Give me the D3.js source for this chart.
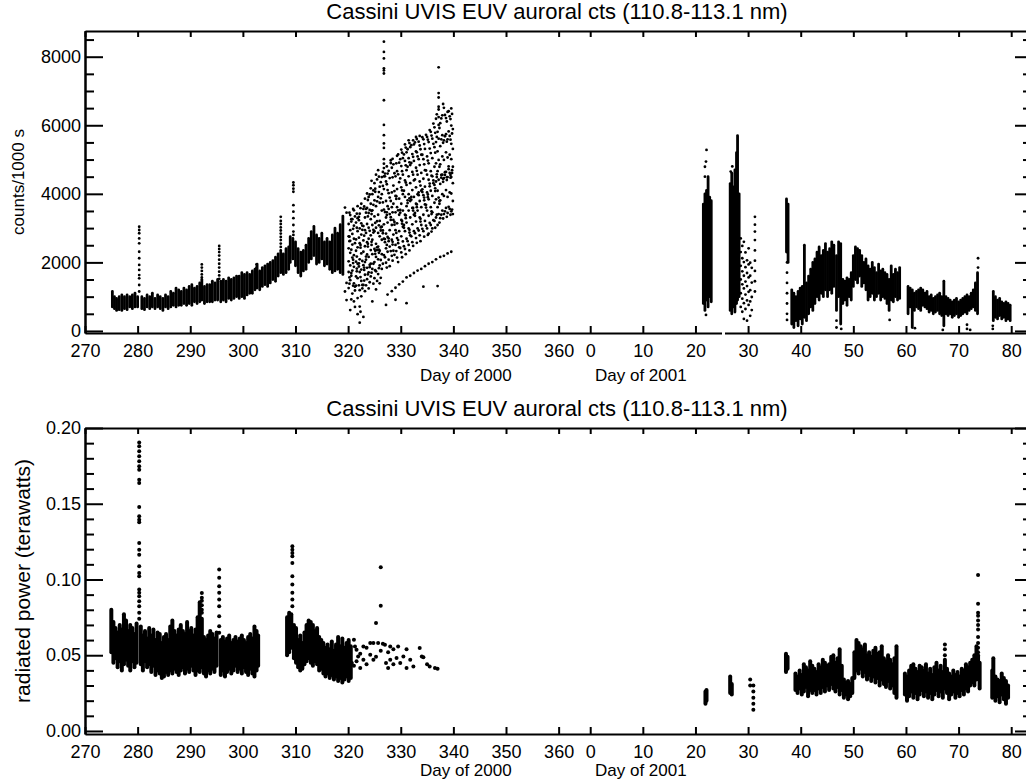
<!DOCTYPE html>
<html>
<head>
<meta charset="utf-8">
<script src="https://cdn.jsdelivr.net/npm/d3@7"></script>
<style>
  body { margin: 0; background: #fff; }
  svg text { font-family: 'Liberation Sans', Arial, sans-serif; fill: #000; }
  .axis path, .axis line { stroke: #000; stroke-width: 2; }
  .axis text { font-size: 18px; }
</style>
</head>
<body>
<script>
// day-of-year tick labels, 2000 then 2001 (2000 was a leap year: 366 days)
var dayTicks2000 = [270, 280, 290, 300, 310, 320, 330, 340, 350, 360];
var dayTicks2001 = [0, 10, 20, 30, 40, 50, 60, 70, 80];
var daysIn2000 = 366;

var ctsTicks = [0, 2000, 4000, 6000, 8000];
var ctsMinorTicks = [500, 1000, 1500, 2500, 3000, 3500, 4500, 5000, 5500, 6500, 7000, 7500, 8500];
var powTicks = [0, 0.05, 0.10, 0.15, 0.20];
var powMinorTicks = [0.01, 0.02, 0.03, 0.04, 0.06, 0.07, 0.08, 0.09, 0.11, 0.12, 0.13, 0.14, 0.16, 0.17, 0.18, 0.19];

// counts/1000 s -- dense sampling drawn as [day, low, high] runs of points
var ctsRuns2000 = [
  [275.2,700,1150],[275.6,650,1000],[276.0,600,950],[276.5,620,1000],[277.0,600,1050],[277.5,650,1000],
  [278.0,620,1050],[278.5,700,1000],[279.0,650,1050],[279.5,700,1100],[280.0,700,1000],
  [280.8,650,1000],[281.3,620,950],[281.8,700,1050],[282.3,650,1000],[282.8,700,1100],[283.3,650,950],
  [283.8,700,1050],[284.3,650,1000],[284.8,600,950],[285.3,700,1050],[285.8,650,1000],[286.3,700,1150],
  [286.8,750,1100],[287.3,700,1250],[287.8,750,1200],[288.3,750,1150],[288.8,800,1250],[289.3,750,1200],
  [289.8,800,1300],[290.3,750,1350],[290.8,850,1250],[291.3,800,1300],[291.8,850,1400],[292.2,900,1500],
  [292.7,800,1300],[293.2,850,1350],[293.7,850,1350],[294.2,850,1450],[294.7,900,1400],[295.2,900,1500],
  [295.8,850,1450],[296.3,900,1500],[296.8,850,1450],[297.3,950,1550],[297.8,900,1500],[298.3,950,1550],
  [298.8,1000,1600],[299.3,950,1600],[299.8,1000,1700],[300.3,950,1650],[300.8,1050,1700],[301.3,1100,1650],
  [301.8,1100,1750],[302.3,1200,1800],[302.7,1250,1950],[303.2,1200,1750],[303.7,1300,1850],[304.2,1350,1900],
  [304.7,1300,1950],[305.2,1400,2000],[305.7,1500,2050],[306.2,1450,2150],[306.7,1600,2250],[307.2,1700,2300],
  [307.7,1650,2250],[308.2,1700,2400],[308.7,1800,2450],[309.0,2000,2750],[309.5,2100,2700],[310.0,1900,2600],
  [310.5,1700,2400],[311.0,1600,2300],[311.5,1750,2350],[312.0,1800,2500],[312.5,2000,2700],[313.0,2100,2900],
  [313.5,2200,3050],[314.0,1950,2800],[314.5,2000,2700],[315.0,2100,2850],[315.5,1900,2600],[316.0,1950,2700],
  [316.5,1800,2600],[317.0,1700,2800],[317.5,1750,3000],[318.0,1800,2850],[318.5,1700,3100],[319.0,1650,3350]
];

// counts/1000 s -- separate points, [day, [values]]
var ctsPoints2000 = [
  [280.3,[3040,2945,2850,2700,2555,2310,2120,1925,1780,1630,1535,1340,1150]],
  [292.2,[1940,1850,1750,1650,1560]],
  [295.5,[2480,2390,2300,2200,2080,1960,1850,1730,1620,1520]],
  [302.6,[1940,1850]],
  [307.2,[3330,3210,3120,3020,2930,2840,2740,2650,2550,2450,2350]],
  [309.6,[4330,4250,4150,4060,3670,3480,3290,3090,2900,2800]],
  [319.4,[1150,3600]],[319.7,[900,1400,3450]],
  [320.1,[1250,1720,2030,2410,2760,3120]],
  [320.25,[1380,1560,2620,2750,3450]],
  [320.4,[610,1480,1910,2280,2630,2940,3380]],
  [320.6,[920,1610,1690,2370,3190,3260]],
  [320.8,[1090,1760,2140,2520,2830,3260]],
  [320.95,[1320,1980,2080,2980,3560]],
  [321.1,[860,1390,1870,2210,2690,3070,3520]],
  [321.3,[700,1180,1290,2560,3340]],
  [321.5,[1320,1590,2020,2340,2670,3160]],
  [321.65,[1740,1820,2170,3010,3420]],
  [321.8,[490,960,1540,1960,2440,2910,3290,3640]],
  [322.05,[1330,1880,1970,2720,3230,3330]],
  [322.2,[240,710,1190,1720,2090,2560,2990,3420]],
  [322.35,[560,1570,2430,2510,3580]],
  [322.5,[1010,1460,1790,2260,2810,3140,3710]],
  [322.7,[1240,1340,2040,2950,3070]],
  [322.9,[410,1340,1920,2310,2640,3060,3560]],
  [323.05,[1470,1780,1850,2780,3630]],
  [323.2,[1160,1640,2010,2470,2940,3310,3860]],
  [323.4,[1330,2080,2170,2860,3450,3560]],
  [323.6,[1510,1840,2230,2590,3120,3590,4010]],
  [323.75,[1650,2460,2540,3340,3820]],
  [323.9,[1240,1710,2160,2690,3010,3440,3910]],
  [324.1,[1420,1860,1930,2920,3530,3980]],
  [324.3,[1590,1960,2360,2790,3260,3710,4160]],
  [324.45,[1700,2510,2600,3410,3500,4380]],
  [324.6,[860,1810,2240,2660,3090,3520,3990]],
  [324.8,[1380,1960,2870,2950,3680,4100]],
  [325.0,[1540,2010,2390,2910,3340,3810,4310]],
  [325.15,[1770,2250,2340,3150,4060,4150]],
  [325.3,[1210,1740,2160,2540,3010,3640,4560]],
  [325.5,[1460,2360,2440,3200,3780,4420]],
  [325.7,[1660,2090,2460,2860,3390,3910,4690]],
  [325.85,[1830,2280,2370,3080,4050,4500]],
  [326.0,[1390,1910,2340,2760,3210,3740,4210]],
  [326.2,[1550,2070,2930,3020,3870,4340]],
  [326.4,[1810,2240,2660,3040,3510,3990,4490]],
  [326.6,[1960,2850,2930,3750,4230,4640]],
  [326.8,[2210,2690,3110,3540,4140,4510,4750,4880,5010,5340,5470,5710,6010,6730,7510,7600,7660,7950,8140,8440]],
  [327.0,[2150,2590,2680,3470,4510,4590]],
  [327.2,[760,1990,2410,2840,3310,3790,4360]],
  [327.35,[1850,2510,3380,3460,4280,4800]],
  [327.5,[1060,2310,2740,3160,3640,4110,4590]],
  [327.7,[2080,2620,2700,3560,4020,4670]],
  [327.9,[1890,2460,2940,3410,3890,4460]],
  [328.1,[2330,3240,3320,3790,4900,4980]],
  [328.3,[1160,2190,2660,3090,3610,4040,4760]],
  [328.45,[2050,2520,2600,3460,4480,5020]],
  [328.6,[2340,2810,3240,3710,4240,4860]],
  [328.8,[2220,3100,3180,4080,4600]],
  [329.0,[910,1260,2510,2940,3460,3940,4510]],
  [329.15,[2330,2860,3850,3930,4890]],
  [329.3,[2140,2710,3140,3610,4140,4660,5110]],
  [329.5,[2010,2560,2650,3520,4570,5150]],
  [329.7,[1360,2440,2910,3390,3860,4340,4910]],
  [329.9,[2420,3450,3530,4450,5010]],
  [330.1,[2290,2760,3240,3710,4190,4810,5290]],
  [330.25,[2150,3130,3210,4100,4660,5200]],
  [330.4,[1440,2610,3040,3510,3990,4560,5040]],
  [330.6,[2470,3010,3090,4090,5150]],
  [330.8,[2390,2910,3390,3910,4390,4960,5440]],
  [330.95,[2240,3290,3370,4330,4830,5350]],
  [331.1,[810,1560,2690,3160,3640,4260,4690,5210]],
  [331.3,[2620,3730,3810,4790,5300]],
  [331.5,[2510,2990,3510,3990,4510,5040,5560]],
  [331.65,[2350,2870,2950,3870,4920,5480]],
  [331.8,[1610,2790,3310,3790,4310,4840,5360]],
  [332.0,[2760,3830,3910,4900,5420]],
  [332.2,[2590,3110,3590,4110,4640,5160]],
  [332.35,[2480,3510,3590,4560,5080,5560]],
  [332.5,[1690,2910,3390,3910,4390,4960,5440]],
  [332.7,[2850,3360,3440,4420,5500]],
  [332.9,[2710,3190,3710,4190,4760,5240,5660]],
  [333.05,[2570,3610,3690,4670,5210,5600]],
  [333.2,[1760,2990,3510,3990,4560,5090]],
  [333.4,[2930,3960,4040,5010,5520]],
  [333.6,[2790,3310,3790,4360,4840,5410,5690]],
  [333.75,[2620,3190,3270,4240,5300]],
  [333.9,[1810,3090,3610,4090,4610,5140]],
  [334.1,[2980,4050,4130,5140,5650]],
  [334.3,[1290,2910,3390,3960,4440,5010,5590]],
  [334.45,[2750,3810,3890,4860,5450]],
  [334.6,[1890,3210,3690,4210,4690,5310]],
  [334.8,[3070,3600,3680,4680,5720]],
  [335.0,[2990,3510,4040,4560,5090,5660]],
  [335.15,[2800,3900,3980,4970,5580]],
  [335.3,[1960,2840,3360,3840,4410,4890,5510]],
  [335.5,[3150,4220,4300,5320,5860]],
  [335.7,[3090,3610,4090,4660,5190,5810]],
  [335.85,[2900,3410,3490,4530,5700]],
  [336.0,[2010,2990,3460,3940,4510,5040,5610]],
  [336.2,[3230,4310,4390,5460,6050]],
  [336.4,[3210,3740,4260,4790,5360,5940]],
  [336.55,[3010,4080,4160,5200,5780]],
  [336.7,[2090,3310,3840,4360,4890,5510,6190]],
  [336.85,[3390,4490,4570,5660,6320]],
  [337.0,[1310,3090,3610,4090,4660,5240,5810]],
  [337.2,[3410,3890,4410,4990,5610,6010,6240,6460,6540,6810,6940,7690]],
  [337.35,[3160,3710,3790,4790,5920]],
  [337.5,[2160,3290,3810,4290,4860,5390,6060]],
  [337.7,[3390,4470,4550,5590,6200]],
  [337.9,[3510,3990,4560,5090,5710,6290]],
  [338.05,[3280,4350,4430,5490,6620]],
  [338.2,[2190,3410,3940,4460,4990,5560,6510]],
  [338.4,[3490,4550,4630,5680,6300]],
  [338.6,[3590,4110,4640,5210,5740,6210]],
  [338.75,[3330,4400,4480,5520,6110]],
  [338.9,[2260,3440,3910,4490,5060,5590,6390]],
  [339.1,[3620,4720,4800,5820,6410]],
  [339.3,[3560,4040,4610,5140,5690,6260]],
  [339.45,[3390,4470,4550,5580,6180]],
  [339.6,[2310,3490,4010,4490,5010,5460,5990,6490]],
  [339.75,[3540,4610,4690,5760,6330]],
  [339.9,[3410,3790,4310,4790,5310,5890]]
];

// 2001 days (day of 2001)
var ctsRuns2001 = [
  [21.5,800,3700],[21.8,600,4000],[22.1,900,4100],[22.4,700,4500],[22.7,1000,3900],[23.0,850,3800],
  [26.6,600,4300],[26.9,500,4600],[27.2,700,4200],[27.5,550,4700],[27.8,800,5200],[28.0,900,5700],[28.3,1000,4000],
  [37.3,2300,3850],[37.6,2000,3700],
  [38.3,200,1200],[38.7,100,1100],[39.1,300,1000],[39.5,150,1150],[39.9,350,1250],[40.3,200,1300],
  [40.7,400,2500],[41.1,300,1400],[41.5,500,1600],[41.9,700,1800],[42.3,600,2000],[42.7,800,2100],
  [43.1,1000,2300],[43.5,900,2450],[43.9,1100,2200],[44.3,1000,2350],[44.7,1200,2550],[45.1,1000,2300],
  [45.5,1200,2400],[45.9,1100,2600],[46.3,1300,2500],[46.8,600,2200],[47.2,1000,2600],[47.6,200,2550],
  [48.0,800,1500],[48.4,900,1450],[48.8,750,1550],[49.2,1000,1500],[49.6,900,1700],[50.0,1300,2200],
  [50.4,1500,2450],[50.8,1400,2400],[51.2,1600,2350],[51.6,1300,2200],[52.0,1400,2000],[52.4,1200,2100],
  [52.8,900,1900],[53.2,1000,1800],[53.6,1100,2000],[54.0,900,1850],[54.4,1000,1700],[54.8,1100,1950],
  [55.2,900,1750],[55.6,1000,1800],[56.0,950,1700],[56.4,800,1650],[56.8,600,1500],[57.2,900,1900],
  [57.6,850,1650],[58.0,1000,1800],[58.4,900,1700],[58.8,950,1850],
  [60.4,500,1300],[60.8,700,1250],[61.2,100,1200],[61.6,600,1100],[62.0,700,1150],[62.4,650,1200],
  [62.8,600,1250],[63.2,750,1200],[63.6,700,1100],[64.0,650,1150],[64.4,550,1000],[64.8,600,1050],
  [65.2,500,950],[65.6,550,1000],[66.0,600,1050],[66.4,500,1100],[66.8,450,1000],[67.2,150,1450],
  [67.6,500,1000],[68.0,450,950],[68.4,500,900],[68.8,400,850],[69.2,450,900],[69.6,500,950],
  [70.0,400,850],[70.4,450,900],[70.8,500,950],[71.2,550,1000],[71.6,500,1050],[72.0,600,1000],
  [72.4,650,1100],[72.8,700,1200],[73.2,600,1400],[73.6,500,1700],
  [76.6,300,1150],[77.0,400,1000],[77.4,350,900],[77.8,450,950],[78.2,350,850],[78.6,400,800],
  [79.0,300,850],[79.4,350,800],[79.8,300,750]
];

var ctsPoints2001 = [
  [21.8,[4790,4500]],[22.0,[4940,466]],[22.1,[5280]],[26.7,[4650]],[27.0,[4800]],
  [28.6,[2700,2300,1900,1500,1100,700]],
  [28.9,[2480,2120,1740,1360,940,560]],
  [29.2,[2600,2010,1610,1240,810,350]],
  [29.5,[2290,1860,1440,1060,640]],
  [29.8,[2060,1690,1310,890,300]],
  [30.1,[2410,1940,1560,1140,760]],
  [30.4,[1990,1610,1190,860,440]],
  [30.7,[1840,1410,990,610]],
  [31.3,[3330,3100,2900,2650,2350,2050,1750,1450,1150]],
  [37.4,[2000,1700,1400,1100,800,500,320]],
  [46.8,[300,100]],[47.7,[60]],[56.9,[320]],[61.7,[80]],[67.0,[30]],
  [71.6,[180,60]],[72.2,[30]],[73.7,[2120,1850]],[76.5,[150,60]]
];

// radiated power (terawatts)
var powRuns2000 = [
  [275.0,0.052,0.080],[275.4,0.045,0.072],[275.8,0.048,0.068],[276.2,0.042,0.065],[276.6,0.046,0.070],
  [277.0,0.040,0.067],[277.4,0.044,0.077],[277.8,0.047,0.073],[278.2,0.043,0.066],[278.6,0.040,0.070],
  [279.0,0.046,0.068],[279.4,0.042,0.064],[279.8,0.045,0.071],[280.6,0.044,0.069],[281.0,0.040,0.063],
  [281.4,0.046,0.066],[281.8,0.042,0.061],[282.2,0.044,0.068],[282.6,0.039,0.063],[283.0,0.043,0.067],
  [283.4,0.037,0.060],[283.8,0.040,0.065],[284.2,0.038,0.064],[284.6,0.035,0.058],[285.0,0.036,0.062],
  [285.4,0.039,0.064],[285.8,0.037,0.060],[286.2,0.040,0.069],[286.6,0.038,0.073],[287.0,0.041,0.066],
  [287.4,0.039,0.063],[287.8,0.037,0.067],[288.2,0.040,0.070],[288.6,0.042,0.066],[289.0,0.038,0.064],
  [289.4,0.041,0.072],[289.8,0.039,0.066],[290.2,0.043,0.068],[290.6,0.040,0.063],[291.0,0.037,0.067],
  [291.4,0.040,0.075],[291.8,0.039,0.085],[292.2,0.042,0.074],[292.6,0.038,0.062],[293.0,0.036,0.060],
  [293.4,0.040,0.063],[293.8,0.038,0.066],[294.2,0.041,0.064],[294.6,0.039,0.061],[295.0,0.043,0.065],
  [295.8,0.037,0.060],[296.2,0.040,0.062],[296.6,0.036,0.059],[297.0,0.039,0.061],[297.4,0.041,0.063],
  [297.8,0.038,0.058],[298.2,0.040,0.060],[298.6,0.043,0.062],[299.0,0.039,0.059],[299.4,0.041,0.061],
  [299.8,0.038,0.063],[300.2,0.042,0.060],[300.6,0.039,0.058],[301.0,0.037,0.062],[301.4,0.041,0.064],
  [301.8,0.038,0.061],[302.2,0.036,0.069],[302.6,0.040,0.066],[302.9,0.043,0.063],
  [308.4,0.050,0.075],[308.8,0.052,0.078],[309.2,0.055,0.077],[309.7,0.048,0.070],[310.1,0.045,0.068],
  [310.5,0.042,0.060],[310.9,0.040,0.063],[311.3,0.041,0.058],[311.7,0.044,0.065],[312.1,0.046,0.070],
  [312.5,0.048,0.073],[312.9,0.045,0.072],[313.3,0.043,0.070],[313.7,0.046,0.066],[314.1,0.044,0.068],
  [314.5,0.040,0.062],[314.9,0.041,0.060],[315.3,0.038,0.058],[315.7,0.036,0.055],[316.1,0.038,0.057],
  [316.5,0.035,0.054],[316.9,0.037,0.059],[317.3,0.034,0.053],[317.7,0.036,0.057],[318.1,0.033,0.062],
  [318.5,0.035,0.056],[318.9,0.032,0.061],[319.3,0.034,0.055],[319.7,0.036,0.058],[320.1,0.033,0.060],
  [320.5,0.035,0.056]
];

var powPoints2000 = [
  [280.3,[0.1905,0.1879,0.1846,0.1813,0.178,0.1747,0.1725,0.1659,0.1637,0.1479,0.1417,0.1395,0.1378,
          0.1241,0.1197,0.1164,0.1087,0.1043,0.1022,0.0934,0.0912,0.089,0.0857,0.0824,0.078,0.074]],
  [292.2,[0.091,0.088,0.086,0.083,0.080,0.078]],
  [295.5,[0.1066,0.1011,0.0956,0.0912,0.0868,0.0824,0.0758,0.0692,0.0648]],
  [309.4,[0.122,0.1197,0.1175,0.1153,0.1109,0.1022,0.0967,0.0912,0.0868,0.0824]],
  [320.7,[0.0448]],[321.1,[0.0602,0.043]],[321.3,[0.0558]],[321.6,[0.0536,0.046]],[321.9,[0.0492]],
  [322.3,[0.0415,0.051]],[322.9,[0.0558,0.047]],[323.5,[0.055,0.044]],[324.2,[0.058,0.0503]],
  [324.8,[0.058,0.047]],[325.3,[0.0712,0.049]],[325.7,[0.058]],[326.2,[0.108,0.0826,0.053]],
  [326.6,[0.0575]],[327.0,[0.0569]],[327.2,[0.0448]],[327.6,[0.0415,0.052]],[328.0,[0.0558,0.047]],
  [328.6,[0.054,0.044]],[329.2,[0.0481]],[329.5,[0.0558]],[329.9,[0.0448]],[330.5,[0.0492]],
  [331.1,[0.054,0.0415]],[331.8,[0.047]],[332.4,[0.0426]],[333.6,[0.0547]],[334.0,[0.0492]],
  [334.3,[0.0487]],[335.0,[0.044]],[335.5,[0.0426]],[336.5,[0.0415]],[337.0,[0.041]]
];

var powRuns2001 = [
  [21.9,0.018,0.026],[22.1,0.020,0.027],[26.6,0.025,0.036],[26.9,0.024,0.031],
  [37.2,0.039,0.051],[37.5,0.041,0.049],
  [39.0,0.027,0.038],[39.4,0.025,0.036],[39.8,0.028,0.040],[40.2,0.024,0.037],[40.6,0.026,0.044],
  [41.0,0.029,0.042],[41.4,0.023,0.040],[41.8,0.027,0.046],[42.2,0.025,0.043],[42.6,0.027,0.041],
  [43.0,0.024,0.039],[43.4,0.028,0.044],[43.8,0.025,0.042],[44.2,0.029,0.047],[44.6,0.026,0.045],
  [45.0,0.030,0.043],[45.4,0.027,0.044],[45.8,0.031,0.049],[46.2,0.028,0.050],[46.6,0.026,0.045],
  [47.0,0.029,0.048],[47.4,0.024,0.054],[47.8,0.027,0.043],[48.2,0.022,0.034],[48.6,0.024,0.032],
  [49.0,0.021,0.033],[49.4,0.023,0.031],[49.8,0.025,0.035],[50.2,0.035,0.052],[50.6,0.040,0.060],
  [51.0,0.038,0.058],[51.4,0.041,0.056],[51.8,0.036,0.054],[52.2,0.039,0.057],[52.6,0.034,0.050],
  [53.0,0.037,0.052],[53.4,0.033,0.049],[53.8,0.036,0.053],[54.2,0.032,0.055],[54.6,0.035,0.051],
  [55.0,0.030,0.052],[55.4,0.034,0.056],[55.8,0.031,0.048],[56.2,0.029,0.046],[56.6,0.033,0.050],
  [57.0,0.028,0.047],[57.4,0.030,0.044],[57.8,0.025,0.048],[58.2,0.022,0.056],
  [59.8,0.024,0.038],[60.2,0.020,0.036],[60.6,0.023,0.040],[61.0,0.026,0.043],[61.4,0.022,0.044],
  [61.8,0.025,0.041],[62.2,0.021,0.039],[62.6,0.024,0.043],[63.0,0.027,0.042],[63.4,0.023,0.040],
  [63.8,0.026,0.044],[64.2,0.022,0.038],[64.6,0.025,0.041],[65.0,0.021,0.037],[65.4,0.024,0.042],
  [65.8,0.027,0.045],[66.2,0.023,0.040],[66.6,0.026,0.043],[67.0,0.022,0.039],[67.4,0.028,0.047],
  [67.8,0.025,0.041],[68.2,0.021,0.038],[68.6,0.024,0.036],[69.0,0.026,0.040],[69.4,0.022,0.037],
  [69.8,0.025,0.039],[70.2,0.023,0.036],[70.6,0.027,0.041],[71.0,0.024,0.040],[71.4,0.028,0.044],
  [71.8,0.026,0.042],[72.2,0.030,0.045],[72.6,0.032,0.047],[73.0,0.030,0.050],[73.4,0.034,0.056],
  [73.7,0.035,0.050],[74.0,0.028,0.045],
  [76.4,0.022,0.040],[76.6,0.025,0.048],[77.0,0.020,0.036],[77.4,0.023,0.034],[77.8,0.019,0.033],
  [78.2,0.024,0.038],[78.6,0.021,0.035],[79.0,0.018,0.033],[79.4,0.022,0.030]
];

var powPoints2001 = [
  [30.4,[0.034,0.030]],[31.0,[0.030,0.026,0.022,0.018,0.014]],
  [67.4,[0.057,0.054,0.050]],
  [73.7,[0.103,0.084,0.078,0.076,0.073,0.070,0.067,0.062,0.058,0.055,0.052]]
];

var title = 'Cassini UVIS EUV auroral cts (110.8-113.1 nm)';

// shared x scale: continuous day, 2001 days offset by the length of 2000
var x = d3.scaleLinear().domain([270, 449]).range([85, 1027]);
var dayTicks = dayTicks2000.concat(dayTicks2001.map(function(d) { return d + daysIn2000; }));

var svg = d3.select('body').append('svg')
  .attr('width', 1026)
  .attr('height', 782);

svg.append('rect').attr('width', 1026).attr('height', 782).attr('fill', '#fff');

function drawPanel(p) {
  var y = p.y;
  var top = y.range()[1], bottom = y.range()[0];
  var g = svg.append('g');

  var runs = p.runs2000.concat(p.runs2001.map(function(d) { return [d[0] + daysIn2000, d[1], d[2]]; }));
  var pts = [];
  p.points2000.forEach(function(c) { c[1].forEach(function(v) { pts.push([c[0], v]); }); });
  p.points2001.forEach(function(c) { c[1].forEach(function(v) { pts.push([c[0] + daysIn2000, v]); }); });

  // runs of closely spaced points
  g.append('g').selectAll('line')
    .data(runs)
    .join('line')
    .attr('x1', function(d) { return x(d[0]); })
    .attr('x2', function(d) { return x(d[0]); })
    .attr('y1', function(d) { return y(d[1]); })
    .attr('y2', function(d) { return y(d[2]); })
    .attr('stroke', '#000')
    .attr('stroke-width', p.r * 2)
    .attr('stroke-linecap', 'round');

  // single points
  g.append('g').selectAll('circle')
    .data(pts)
    .join('circle')
    .attr('cx', function(d) { return x(d[0]); })
    .attr('cy', function(d) { return y(d[1]); })
    .attr('r', p.r)
    .attr('fill', '#000');

  // left axis, ticks pointing in
  g.append('g').attr('class', 'axis').attr('transform', 'translate(85,0)')
    .call(d3.axisLeft(y).tickValues(p.ticks).tickFormat(p.fmt).tickSizeInner(-18).tickSizeOuter(0).tickPadding(4));
  g.append('g').attr('class', 'axis').attr('transform', 'translate(85,0)')
    .call(d3.axisLeft(y).tickValues(p.minor).tickFormat('').tickSizeInner(-9).tickSizeOuter(0));

  // right axis
  g.append('g').attr('class', 'axis').attr('transform', 'translate(1027,0)')
    .call(d3.axisRight(y).tickValues(p.ticks).tickFormat('').tickSizeInner(-12).tickSizeOuter(0));
  g.append('g').attr('class', 'axis').attr('transform', 'translate(1027,0)')
    .call(d3.axisRight(y).tickValues(p.minor).tickFormat('').tickSizeInner(-4).tickSizeOuter(0));

  // top axis
  g.append('g').attr('class', 'axis').attr('transform', 'translate(0,' + top + ')')
    .call(d3.axisTop(x).tickValues(dayTicks).tickFormat('').tickSizeInner(-6).tickSizeOuter(0));

  // bottom axis with day labels
  g.append('g').attr('class', 'axis').attr('transform', 'translate(0,' + bottom + ')')
    .call(d3.axisBottom(x).tickValues(dayTicks)
      .tickFormat(function(d) { return d >= daysIn2000 ? d - daysIn2000 : d; })
      .tickSizeInner(-7).tickSizeOuter(0).tickPadding(11));

  if (p.axisBreak) {
    g.append('rect').attr('x', 722).attr('y', bottom - 3).attr('width', 3).attr('height', 5).attr('fill', '#fff');
  }

  g.append('text')
    .attr('x', 557).attr('y', top - 12)
    .attr('text-anchor', 'middle')
    .style('font-size', '22px')
    .text(title);

  g.append('text').attr('x', 420).attr('y', bottom + p.dayDy).style('font-size', '17px').text('Day of 2000');
  g.append('text').attr('x', 595).attr('y', bottom + p.dayDy).style('font-size', '17px').text('Day of 2001');

  g.append('text')
    .attr('transform', 'translate(' + p.labelX + ',' + (top + bottom) / 2 + ') rotate(-90)')
    .attr('text-anchor', 'middle')
    .style('font-size', p.labelSize + 'px')
    .text(p.label);
}

drawPanel({
  y: d3.scaleLinear().domain([-60, 8750]).range([333, 31]),
  ticks: ctsTicks, minor: ctsMinorTicks, fmt: d3.format('d'),
  runs2000: ctsRuns2000, points2000: ctsPoints2000,
  runs2001: ctsRuns2001, points2001: ctsPoints2001,
  r: 1.4, label: 'counts/1000 s', labelX: 24, labelSize: 17, axisBreak: true, dayDy: 47.5
});

drawPanel({
  y: d3.scaleLinear().domain([-0.002, 0.20]).range([734, 428]),
  ticks: powTicks, minor: powMinorTicks, fmt: d3.format('.2f'),
  runs2000: powRuns2000, points2000: powPoints2000,
  runs2001: powRuns2001, points2001: powPoints2001,
  r: 2, label: 'radiated power (terawatts)', labelX: 30, labelSize: 21, axisBreak: false, dayDy: 42
});
</script>
</body>
</html>
